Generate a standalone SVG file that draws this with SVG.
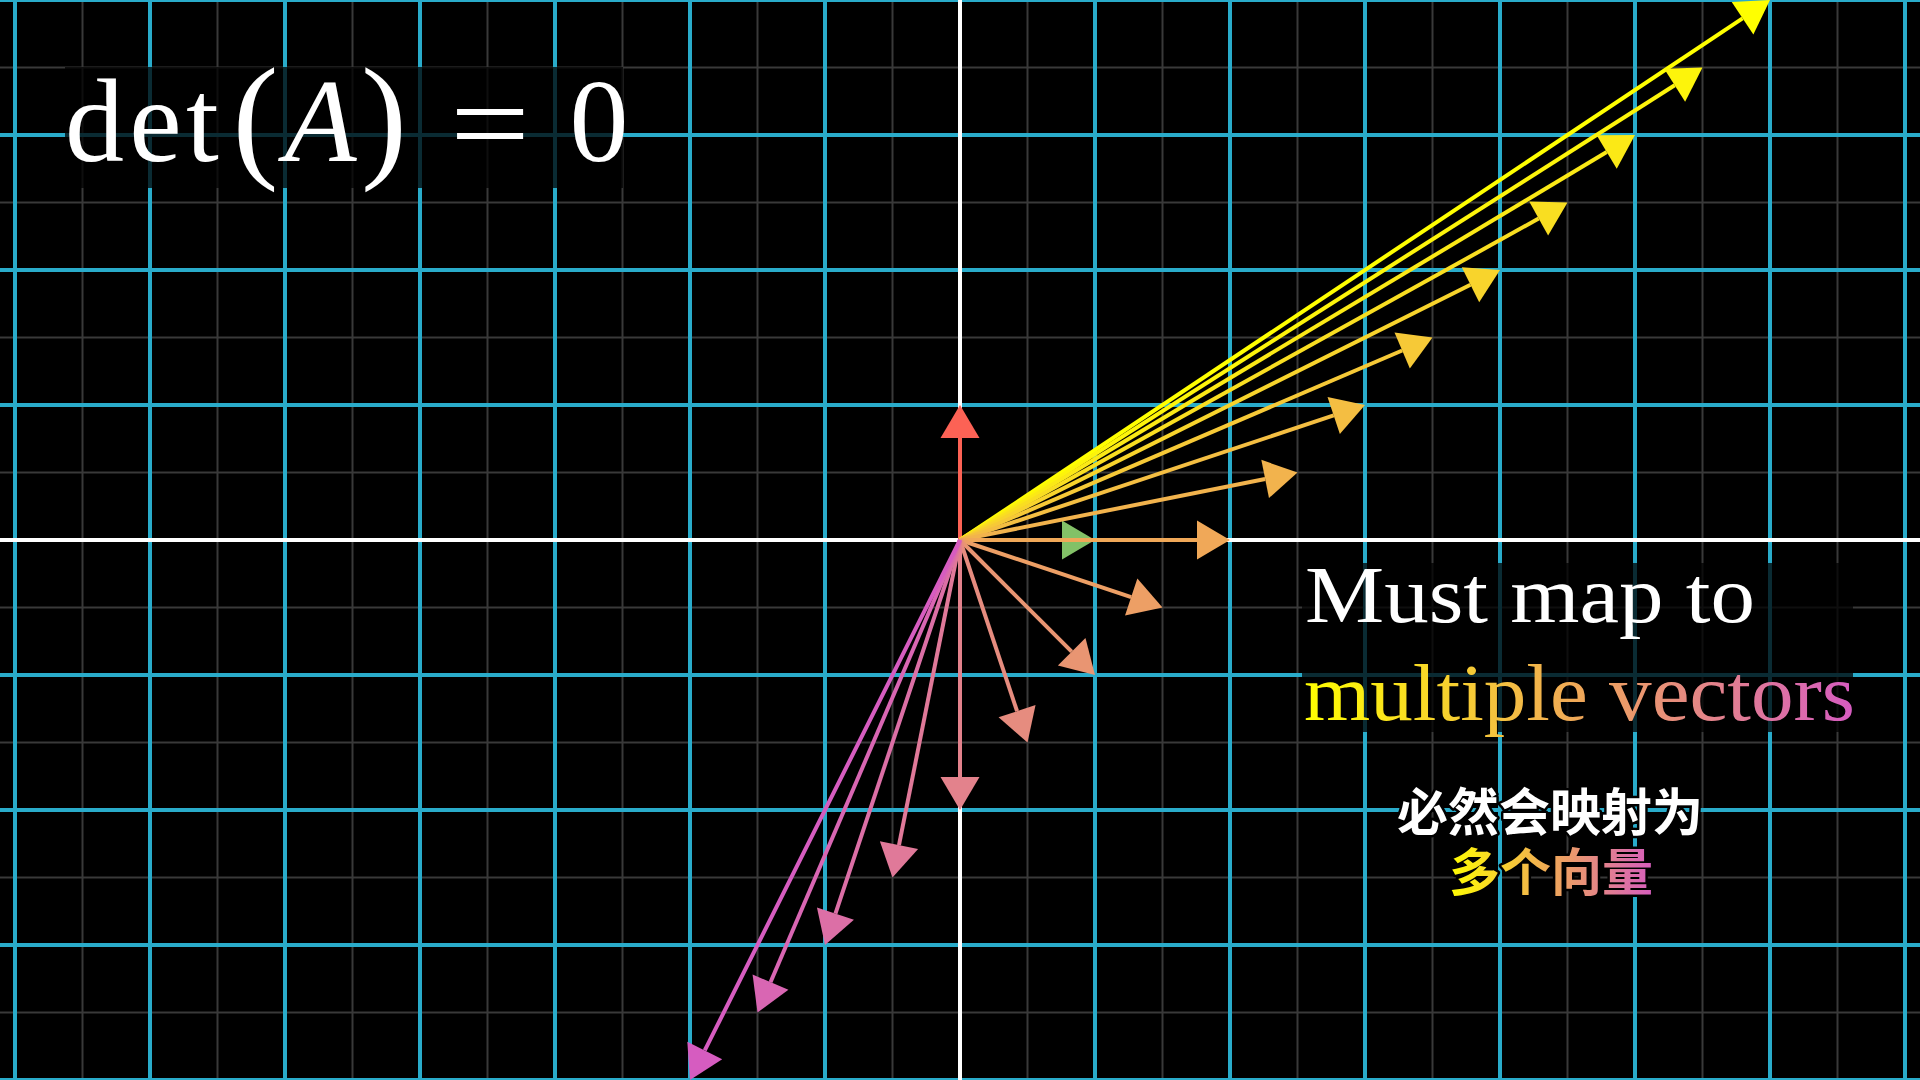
<svg xmlns="http://www.w3.org/2000/svg" width="1920" height="1080" viewBox="0 0 1920 1080">
<defs>
<style>
.faint{stroke:#393939;stroke-width:2;fill:none}
.major{stroke:#29ABCA;stroke-width:4;fill:none}
.axis{stroke:#FFFFFF;stroke-width:4;fill:none}
.bg{fill:#000000;fill-opacity:0.75}
.tex{font-family:"Liberation Serif","Times New Roman",serif;fill:#FFFFFF}
.cjk{font-family:"Noto Sans CJK SC","Noto Sans",sans-serif;font-weight:700;font-size:51px;stroke:#000000;stroke-width:5;stroke-linejoin:round;paint-order:stroke fill;text-anchor:middle}
.shaft{stroke-width:4;fill:none}
</style>
<linearGradient id="gradEn" gradientUnits="userSpaceOnUse" x1="1304" y1="0" x2="1853" y2="0">
<stop offset="0" stop-color="#FFFF00"/>
<stop offset="0.5" stop-color="#F0A858"/>
<stop offset="1" stop-color="#D65CC0"/>
</linearGradient>
<linearGradient id="gradZh" gradientUnits="userSpaceOnUse" x1="1447" y1="0" x2="1655" y2="0">
<stop offset="0" stop-color="#FFFF00"/>
<stop offset="0.5" stop-color="#F0A858"/>
<stop offset="1" stop-color="#D65CC0"/>
</linearGradient>
</defs>
<rect x="0" y="0" width="1920" height="1080" fill="#000000"/>
<g id="grid">
<path class="faint" d="M82.5 0V1080M217.5 0V1080M352.5 0V1080M487.5 0V1080M622.5 0V1080M757.5 0V1080M892.5 0V1080M1027.5 0V1080M1162.5 0V1080M1297.5 0V1080M1432.5 0V1080M1567.5 0V1080M1702.5 0V1080M1837.5 0V1080M0 67.5H1920M0 202.5H1920M0 337.5H1920M0 472.5H1920M0 607.5H1920M0 742.5H1920M0 877.5H1920M0 1012.5H1920"/>
<path class="major" d="M15 0V1080M150 0V1080M285 0V1080M420 0V1080M555 0V1080M690 0V1080M825 0V1080M1095 0V1080M1230 0V1080M1365 0V1080M1500 0V1080M1635 0V1080M1770 0V1080M1905 0V1080M0 0H1920M0 135H1920M0 270H1920M0 405H1920M0 675H1920M0 810H1920M0 945H1920M0 1080H1920"/>
<path class="axis" d="M960 0V1080M0 540H1920"/>
</g>
<g id="label-det">
<rect class="bg" x="65" y="67" width="558" height="121"/>
<text class="tex" font-size="118" text-anchor="middle" x="94.5" y="160.5">d</text>
<text class="tex" font-size="118" text-anchor="middle" x="155.5" y="160.5">e</text>
<text class="tex" font-size="118" text-anchor="middle" x="202.5" y="160.5">t</text>
<text class="tex" font-size="138" text-anchor="middle" x="255.5" y="163">(</text>
<text class="tex" font-size="118" font-style="italic" text-anchor="middle" x="320.5" y="160.5">A</text>
<text class="tex" font-size="138" text-anchor="middle" x="384" y="163">)</text>
<text class="tex" font-size="118" x="450" y="164" textLength="80" lengthAdjust="spacingAndGlyphs">=</text>
<text class="tex" font-size="118" text-anchor="middle" x="599" y="160.5">0</text>
</g>
<g id="label-must">
<rect class="bg" x="1302" y="563" width="551" height="169"/>
<text class="tex" font-size="80" x="1305" y="622" textLength="450" lengthAdjust="spacingAndGlyphs">Must map to</text>
<text class="tex" font-size="80" x="1304" y="720" textLength="551" lengthAdjust="spacingAndGlyphs" fill="url(#gradEn)" style="fill:url(#gradEn)">multiple vectors</text>
</g>
<g id="label-zh">
<text class="cjk"><tspan x="1550" y="831" fill="#FFFFFF">必然会映射为</tspan><tspan x="1551" y="891" fill="url(#gradZh)">多个向量</tspan></text>
</g>
<g id="basis-i">
<line class="shaft" x1="960" y1="540" x2="1062" y2="540" stroke="#83C167"/>
<polygon points="1095,540 1062,520.5 1062,559.5" fill="#83C167"/>
</g>
<g id="basis-j">
<line class="shaft" x1="960" y1="540" x2="960" y2="438" stroke="#FC6255" stroke-width="5"/>
<polygon points="960,405 940.5,438 979.5,438" fill="#FC6255"/>
</g>
<g id="connectors">
<g id="v-6-4"><line class="shaft" x1="960" y1="540" x2="1742.54" y2="18.31" stroke="#FFFF00"/><polygon points="1770,0 1753.36,34.53 1731.73,2.08" fill="#FFFF00"/></g>
<g id="v-5.5-3.5"><line class="shaft" x1="960" y1="540" x2="1674.66" y2="85.22" stroke="#FDF40B"/><polygon points="1702.5,67.5 1685.13,101.67 1664.19,68.77" fill="#FDF40B"/></g>
<g id="v-5-3"><line class="shaft" x1="960" y1="540" x2="1606.70" y2="151.98" stroke="#FBE916"/><polygon points="1635,135 1616.74,168.70 1596.67,135.26" fill="#FBE916"/></g>
<g id="v-4.5-2.5"><line class="shaft" x1="960" y1="540" x2="1538.65" y2="218.53" stroke="#F9DE21"/><polygon points="1567.5,202.5 1548.12,235.57 1529.18,201.48" fill="#F9DE21"/></g>
<g id="v-4-2"><line class="shaft" x1="960" y1="540" x2="1470.48" y2="284.76" stroke="#F8D42C"/><polygon points="1500,270 1479.20,302.20 1461.76,267.32" fill="#F8D42C"/></g>
<g id="v-3.5-1.5"><line class="shaft" x1="960" y1="540" x2="1402.17" y2="350.50" stroke="#F6C937"/><polygon points="1432.5,337.5 1409.85,368.42 1394.49,332.58" fill="#F6C937"/></g>
<g id="v-3-1"><line class="shaft" x1="960" y1="540" x2="1333.69" y2="415.44" stroke="#F4BE42"/><polygon points="1365,405 1339.86,433.94 1327.53,396.94" fill="#F4BE42"/></g>
<g id="v-2.5-0.5"><line class="shaft" x1="960" y1="540" x2="1265.14" y2="478.97" stroke="#F2B34D"/><polygon points="1297.5,472.5 1268.97,498.09 1261.32,459.85" fill="#F2B34D"/></g>
<g id="v-2-0"><line class="shaft" x1="960" y1="540" x2="1197" y2="540" stroke="#F0A858"/><polygon points="1230,540 1197,559.5 1197,520.5" fill="#F0A858"/></g>
<g id="v-1.5-m0.5"><line class="shaft" x1="960" y1="540" x2="1131.19" y2="597.06" stroke="#ED9F65"/><polygon points="1162.5,607.5 1125.03,615.56 1137.36,578.56" fill="#ED9F65"/></g>
<g id="v-1-m1"><line class="shaft" x1="960" y1="540" x2="1071.67" y2="651.67" stroke="#E99572"/><polygon points="1095,675 1057.88,665.46 1085.46,637.88" fill="#E99572"/></g>
<g id="v-0.5-m1.5"><line class="shaft" x1="960" y1="540" x2="1017.06" y2="711.19" stroke="#E68C7F"/><polygon points="1027.5,742.5 998.56,717.36 1035.56,705.03" fill="#E68C7F"/></g>
<g id="v-0-m2"><line class="shaft" x1="960" y1="540" x2="960" y2="777" stroke="#E3828C"/><polygon points="960,810 940.5,777 979.5,777" fill="#E3828C"/></g>
<g id="v-m0.5-m2.5"><line class="shaft" x1="960" y1="540" x2="898.97" y2="845.14" stroke="#E07999"/><polygon points="892.5,877.5 879.85,841.32 918.09,848.97" fill="#E07999"/></g>
<g id="v-m1-m3"><line class="shaft" x1="960" y1="540" x2="835.44" y2="913.69" stroke="#DC6FA6"/><polygon points="825,945 816.94,907.53 853.94,919.86" fill="#DC6FA6"/></g>
<g id="v-m1.5-m3.5"><line class="shaft" x1="960" y1="540" x2="770.50" y2="982.17" stroke="#D966B3"/><polygon points="757.5,1012.5 752.58,974.49 788.42,989.85" fill="#D966B3"/></g>
<g id="v-m2-m4"><line class="shaft" x1="960" y1="540" x2="704.76" y2="1050.48" stroke="#D65CC0"/><polygon points="690,1080 687.32,1041.76 722.20,1059.20" fill="#D65CC0"/></g>
</g>
</svg>
